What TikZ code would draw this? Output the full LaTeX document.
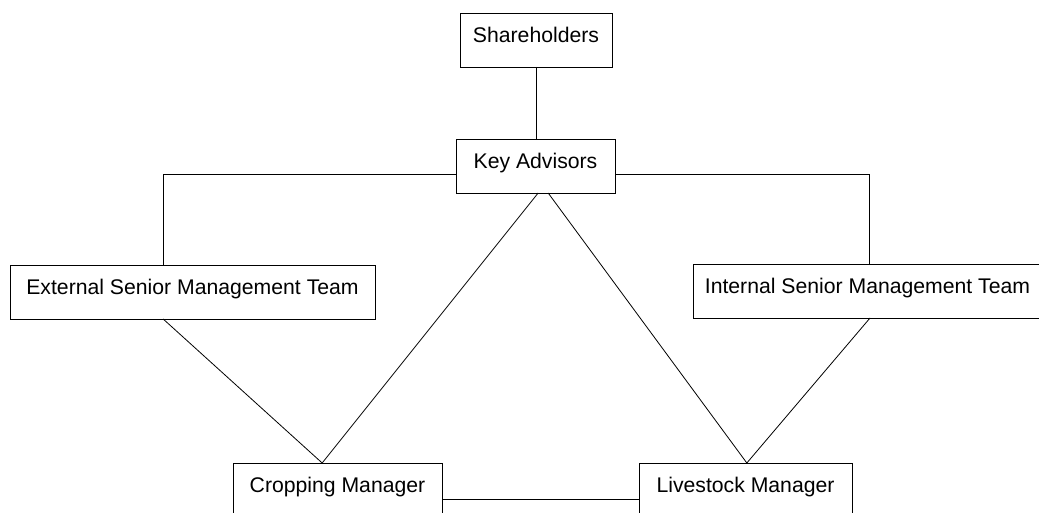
\documentclass[tikz,border=0pt]{standalone}
\usepackage{fontspec}
\setmainfont{Liberation Sans}
\begin{document}
\begin{tikzpicture}[x=0.75pt,y=-0.75pt,inner sep=0pt,outer sep=0pt,line width=0.6pt,
orgbox/.style={draw,rectangle,minimum height=40.5pt,text height=11.3pt,text depth=7.5pt,font=\fontsize{15.9}{18}\selectfont,line width=0.6pt}]

\clip (0,0) rectangle (1039,513);

\draw (536,40) node[orgbox,minimum width=114pt] (share) {Shareholders};
\draw (535.5,166) node[orgbox,minimum width=119.25pt] (key) {Key Advisors};
\draw (192.5,292) node[orgbox,minimum width=273.75pt] (ext) {External Senior Management Team};
\draw (867.5,291) node[orgbox,minimum width=261.75pt] (int) {Internal Senior Management Team};
\draw (337.5,490) node[orgbox,minimum width=156.75pt] (crop) {Cropping Manager};
\draw (745.5,490) node[orgbox,minimum width=159.75pt] (live) {Livestock Manager};

\draw (share.south) -- (share.south |- key.north);
\draw ([yshift=-6pt]key.west) -| ([xshift=-22pt]ext.north);
\draw ([yshift=-6pt]key.east) -| ([xshift=1.1pt]int.north);
\draw ([xshift=2pt]key.south) -- ([xshift=-11.5pt]crop.north);
\draw ([xshift=9.5pt]key.south) -- ([xshift=1pt]live.north);
\draw ([xshift=-22pt]ext.south) -- ([xshift=-11.5pt]crop.north);
\draw ([xshift=1.9pt]int.south) -- ([xshift=1pt]live.north);
\draw ([yshift=-6.75pt]crop.east) -- ([yshift=-6.75pt]live.west);
\end{tikzpicture}
\end{document}
